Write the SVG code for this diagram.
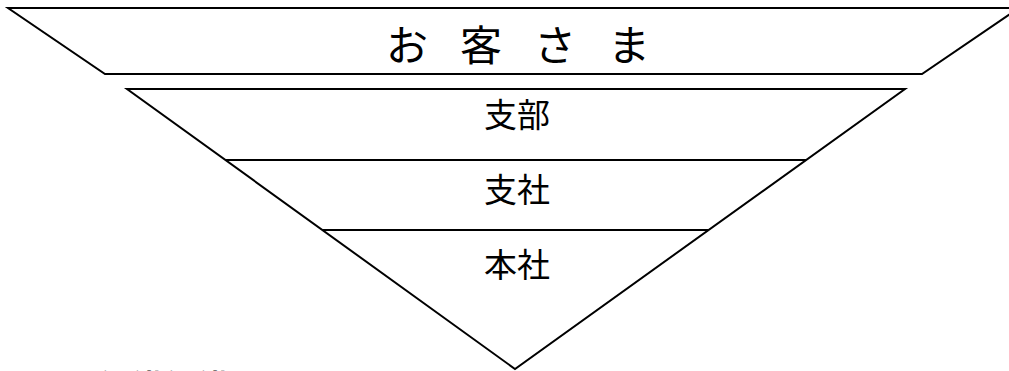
<svg xmlns="http://www.w3.org/2000/svg" width="1009" height="371" viewBox="0 0 1009 371">
<style>
.shape{fill:#fff;stroke:#000;stroke-width:2;stroke-linejoin:miter}
.ln{stroke:#000;stroke-width:2}
.t{font-family:"Noto Sans CJK JP","Noto Sans CJK SC",sans-serif;fill:#000}
.lbl{font-size:33px;text-anchor:middle}
</style>
<rect width="1009" height="371" fill="#fff"/>
<g id="customers">
<polygon class="shape" points="8,8 1019,8 922,74 105,74"/>
<text class="t" x="386" y="61" font-size="42" letter-spacing="-5">お　客　さ　ま</text>
</g>
<g id="pyramid">
<polygon class="shape" points="127,89 905,89 515,369"/>
</g>
<g id="connectors">
<line class="ln" x1="225.4" y1="160" x2="806.1" y2="160"/>
<line class="ln" x1="322.4" y1="230" x2="708.6" y2="230"/>
</g>
<g id="shibu">
<text class="t lbl" x="517" y="127">支部</text>
</g>
<g id="shisha">
<text class="t lbl" x="517" y="202">支社</text>
</g>
<g id="honsha">
<text class="t lbl" x="517" y="277">本社</text>
</g>
<g id="caption">
<text class="t" x="66" y="399" font-size="33" font-weight="bold">○組織組織</text>
</g>
</svg>
